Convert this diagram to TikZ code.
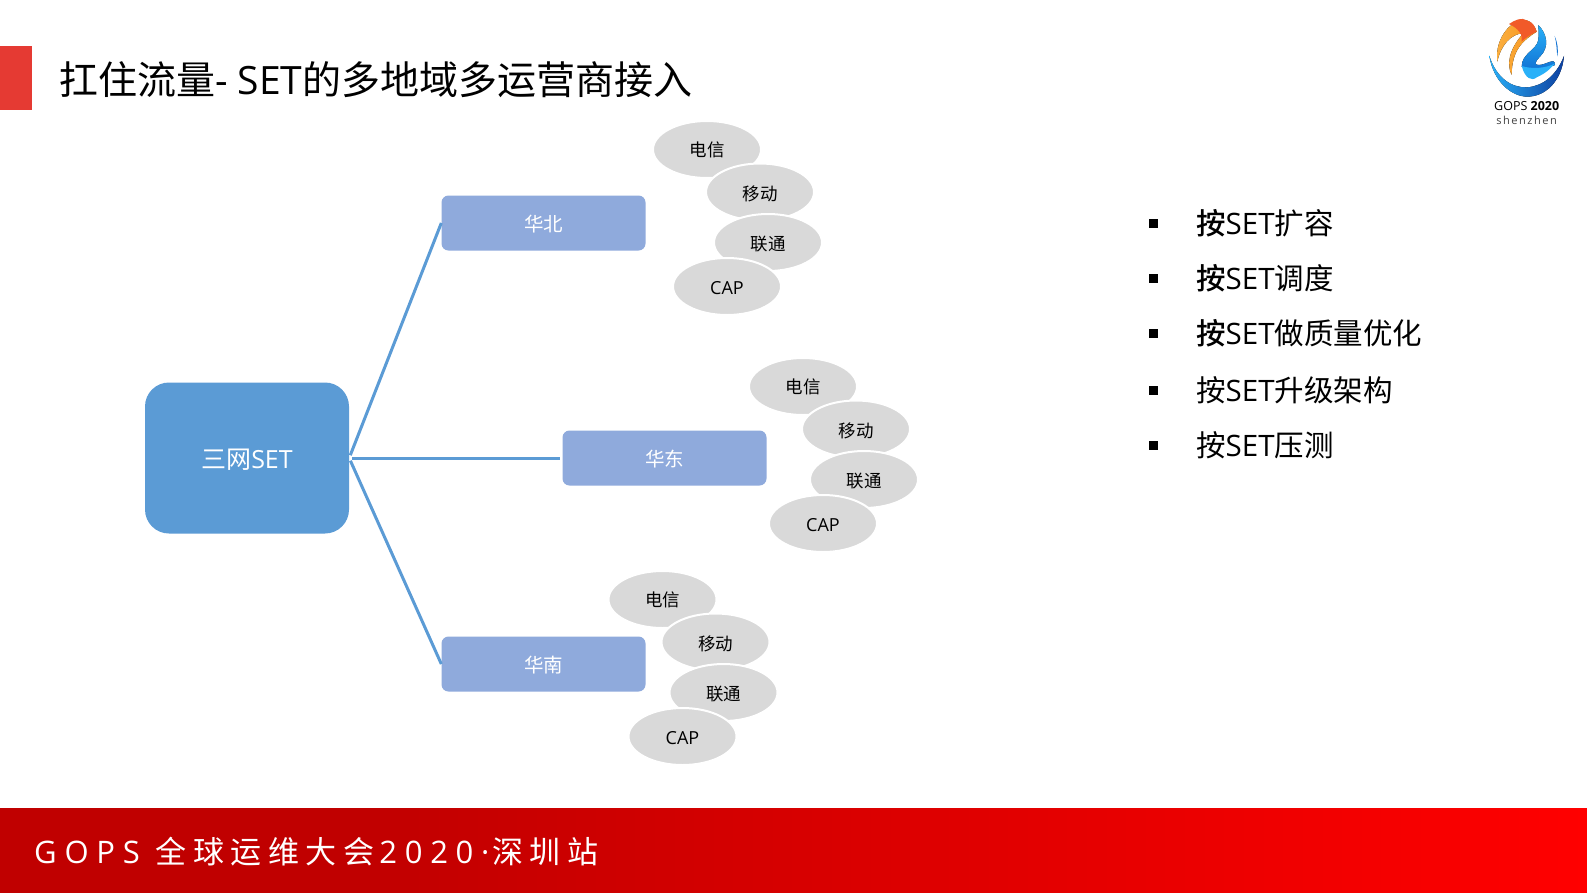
\documentclass[tikz,border=0pt]{standalone}
\usepackage{fontspec}
\setmainfont{Noto Sans CJK SC}
\newfontfamily\lat{Open Sans}
\newfontfamily\medcjk{Noto Sans CJK SC Medium}
\newfontfamily\spaced[LetterSpace=21]{Noto Sans CJK SC}
\newfontfamily\spacedlat[LetterSpace=25]{Open Sans}
\newfontfamily\logolat[LetterSpace=14]{Open Sans}
\usetikzlibrary{shapes.geometric,positioning}
\definecolor{mainblue}{HTML}{5B9BD5}
\definecolor{areablue}{HTML}{8FAADC}
\definecolor{ellgray}{HTML}{D9D9D9}
\definecolor{tabred}{HTML}{E53A33}
\definecolor{footdark}{HTML}{C00000}
\definecolor{logoorange}{HTML}{F7941D}
\definecolor{logoamber}{HTML}{FBB040}
\definecolor{logored}{HTML}{F15A29}
\definecolor{logoblue}{HTML}{1173D4}
\definecolor{logosky}{HTML}{29B0F8}
\definecolor{logonavy}{HTML}{0D3F9F}
\tikzset{
  mainbox/.style={draw=none,fill=mainblue,rounded corners=24pt,minimum width=204pt,minimum height=151pt,inner sep=0pt,text=white,font=\fontsize{25}{28}\selectfont},
  areabox/.style={draw=none,fill=areablue,rounded corners=7pt,minimum width=204pt,minimum height=55pt,inner sep=0pt,text=white,font=\fontsize{19.5}{24}\selectfont},
  isp/.style={ellipse,draw=white,line width=2pt,fill=ellgray,minimum width=108pt,minimum height=57pt,inner sep=0pt,text=black,font=\fontsize{17.5}{21}\selectfont},
  link/.style={draw=mainblue,line width=3pt},
  bulletmark/.style={fill=black,minimum size=9pt,inner sep=0pt},
  pointtext/.style={anchor=west,inner sep=0pt,text=black,font=\fontsize{29.5}{34}\selectfont},
}
\newcommand{\dn}[1]{\vbox{\kern3pt\hbox{#1}}}
\newcommand{\ispgroup}[3]{%
  \node[isp] (#1a) at (707+#2,149.5+#3) {电信};
  \node[isp] (#1b) at (760+#2,192+#3) {\dn{移动}};
  \node[isp] (#1c) at (768+#2,242.5+#3) {\dn{联通}};
  \node[isp] (#1d) at (727+#2,286.5+#3) {\dn{\fontsize{18}{21}\selectfont\lat CAP}};
}
\begin{document}
\begin{tikzpicture}[x=1pt,y=-1pt]
\useasboundingbox (0,0) rectangle (1587,892);
\fill[white] (0,0) rectangle (1587,892);
% title
\node[fill=tabred,minimum width=32pt,minimum height=64pt,inner sep=0pt] (tab) at (16,77.5) {};
\node[anchor=west,inner sep=0pt,text=black,font=\fontsize{39}{44}\selectfont] (title) at (59,80) {扛住流量{\lat - SET}的多地域多运营商接入};
% footer
\fill[footdark] (0,808) rectangle (352,896);
\path[left color=footdark,right color=red] (350,808) rectangle (1587,896);
\node[anchor=west,inner sep=0pt,text=white,font=\fontsize{31}{36}\selectfont] (foot) at (34,852) {{\spacedlat GOPS}\hspace{9pt} {\spaced 全球运维大会}\hspace{5pt}{\spacedlat 2020·}\hspace{3pt}{\spaced 深圳站}};
% tree
\node[mainbox] (main) at (247,458) {\dn{三网{\lat SET}}};
\node[areabox] (hb) at (543.5,223) {\dn{华北}};
\node[areabox] (hd) at (664.5,458) {\dn{华东}};
\node[areabox] (hn) at (543.5,664) {\dn{华南}};
\draw[link,shorten <=3pt] (main.east) -- (hb.west);
\draw[link,shorten <=3pt,shorten >=2pt] (main.east) -- (hd.west);
\draw[link,shorten <=3pt] (main.east) -- (hn.west);
\ispgroup{n}{0}{0}
\ispgroup{e}{96}{237}
\ispgroup{s}{-44.5}{450}
% bullet points
\foreach \i/\y/\t in {1/223/{{\medcjk 按}{\lat SET}扩容},2/278/{{\medcjk 按}{\lat SET}调度},3/333/{{\medcjk 按}{\lat SET}做质量优化},4/390/{按{\lat SET}升级架构},5/445/{按{\lat SET}压测}}{
  \node[bulletmark] (b\i) at (1153,\y) {};
  \node[pointtext] (p\i) at (1196,\y) {\t};
}
% logo
\begin{scope}[shift={(1440,0)},x=0.3333pt,y=-0.3333pt]
  % crescent
  \fill[left color=logosky,right color=logonavy]
    (148,168) .. controls (160,245) and (215,290) .. (262,290)
    .. controls (315,290) and (365,245) .. (372,168)
    .. controls (350,225) and (310,258) .. (262,262)
    .. controls (215,264) and (170,235) .. (148,168) -- cycle;
  % orange swirl
  \fill[left color=logoamber,right color=logoorange]
    (172,185) .. controls (165,130) and (195,80) .. (235,62)
    .. controls (260,55) and (280,65) .. (290,95)
    .. controls (250,120) and (215,150) .. (215,225)
    .. controls (200,195) and (205,150) .. (250,100)
    .. controls (215,100) and (182,135) .. (172,185) -- cycle;
  \fill[logored]
    (207,72) .. controls (225,60) and (245,50) .. (262,62)
    .. controls (280,68) and (285,80) .. (290,95)
    .. controls (270,105) and (258,112) .. (245,125)
    .. controls (250,105) and (235,85) .. (207,72) -- cycle;
  % blue swirl
  \fill[top color=logosky,bottom color=logoblue]
    (295,75) .. controls (320,100) and (330,140) .. (300,170)
    .. controls (285,185) and (282,195) .. (295,195)
    .. controls (320,195) and (345,170) .. (345,195)
    .. controls (320,205) and (280,210) .. (245,200)
    .. controls (245,160) and (290,150) .. (295,120)
    .. controls (297,100) and (295,85) .. (295,75) -- cycle;
  \fill[logosky]
    (245,198) .. controls (275,208) and (320,205) .. (345,190)
    .. controls (325,215) and (305,225) .. (290,232)
    .. controls (275,245) and (255,235) .. (245,198) -- cycle;
  \fill[logoblue]
    (344,108) .. controls (352,125) and (356,150) .. (352,170)
    .. controls (350,150) and (350,130) .. (344,108) -- cycle;
  \node[inner sep=0pt,text=black,font=\fontsize{12.5}{14}\selectfont\lat] (logoa) at (260,318) {GOPS \textbf{2020}};
  \node[inner sep=0pt,text=black!75,font=\fontsize{11}{13}\selectfont\logolat] (logob) at (260,362) {shenzhen};
\end{scope}
\end{tikzpicture}
\end{document}
